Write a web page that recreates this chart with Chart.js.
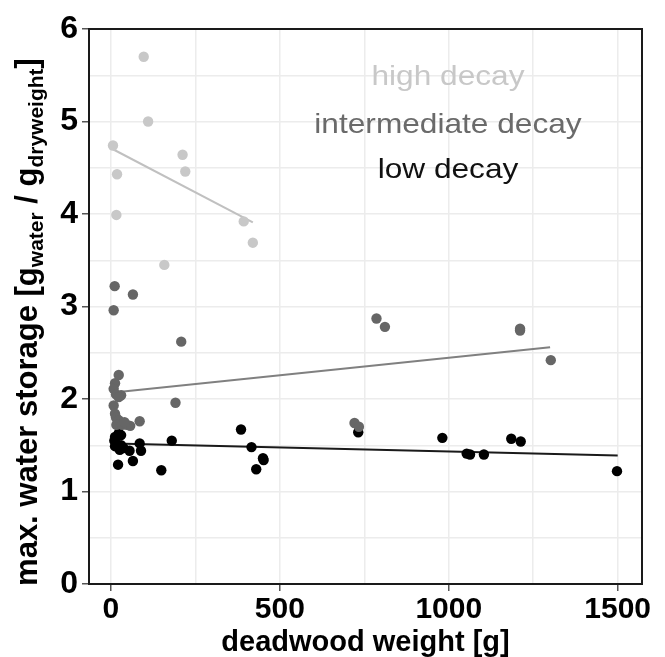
<!DOCTYPE html>
<html>
<head>
<meta charset="utf-8">
<script src="https://cdn.jsdelivr.net/npm/chart.js@4.4.1/dist/chart.umd.min.js"></script>
<style>
  html, body { margin: 0; padding: 0; background: #fff; }
  #wrap { width: 665px; height: 657px; }
</style>
</head>
<body>
<div id="wrap"><canvas id="waterChart" width="665" height="657"></canvas></div>
<script>
// values
const seriesNames = ['high decay', 'intermediate decay', 'low decay'];

const highX = [97, 110, 6, 18, 16, 212, 220, 393, 420, 158];
const highY = [5.70, 5.00, 4.74, 4.43, 3.99, 4.64, 4.46, 3.92, 3.69, 3.45];

const midX = [11, 65, 8, 208, 191, 85, 23, 12, 8, 15, 30, 23, 8, 12, 15, 23, 16, 33, 47, 57, 40,
  786, 811, 1211, 1211, 1302, 721, 734];
const midY = [3.22, 3.13, 2.96, 2.62, 1.96, 1.76, 2.26, 2.17, 2.11, 2.05, 2.04, 2.02, 1.93, 1.84, 1.80, 1.77, 1.72, 1.72, 1.72, 1.71, 1.75,
  2.87, 2.78, 2.76, 2.74, 2.42, 1.74, 1.70];

const lowX = [23, 12, 30, 10, 15, 30, 12, 26, 37, 55, 85, 89, 21, 65, 149, 180, 385, 416, 430, 450, 452,
  732, 981, 1053, 1063, 1104, 1185, 1213, 1498];
const lowY = [1.63, 1.59, 1.61, 1.55, 1.52, 1.50, 1.49, 1.45, 1.47, 1.44, 1.52, 1.44, 1.29, 1.33, 1.23, 1.55, 1.67, 1.48, 1.24, 1.36, 1.34,
  1.64, 1.58, 1.41, 1.40, 1.40, 1.57, 1.54, 1.22];

// fitted lines, end points
const highFitX = [6, 420];
const highFitY = [4.70, 3.91];
const midFitX = [8, 1300];
const midFitY = [2.07, 2.56];
const lowFitX = [10, 1500];
const lowFitY = [1.52, 1.39];

const xTicks = [0, 500, 1000, 1500];
const yTicks = [0, 1, 2, 3, 4, 5, 6];
const xGrid = [0, 250, 500, 750, 1000, 1250, 1500];
const yGrid = [0, 0.5, 1, 1.5, 2, 2.5, 3, 3.5, 4, 4.5, 5, 5.5, 6];

const pointColors = ['#c8c8c8', '#666666', '#000000'];
const lineColors = ['#c0c0c0', '#808080', '#1a1a1a'];
const FONT = "'Liberation Sans', Arial, sans-serif";

function pts(xs, ys) {
  return xs.map((x, i) => ({ x: x, y: ys[i] }));
}

function pointSet(xs, ys, color) {
  return {
    data: pts(xs, ys),
    backgroundColor: color,
    borderColor: color,
    borderWidth: 0,
    pointRadius: 5.2,
    showLine: false
  };
}

function fitSet(xs, ys, color) {
  return {
    data: pts(xs, ys),
    borderColor: color,
    borderWidth: 2,
    pointRadius: 0,
    showLine: true,
    fill: false
  };
}

// frame, legend text and the y title with subscripts
const decorations = {
  id: 'decorations',
  afterDraw(chart) {
    const { ctx, chartArea: a } = chart;
    ctx.save();
    ctx.strokeStyle = '#1a1a1a';
    ctx.lineWidth = 2;
    ctx.strokeRect(a.left, a.top, a.right - a.left, a.bottom - a.top);

    // legend labels
    const cx = 448;
    const rows = [77, 125, 170];
    ctx.font = '28px ' + FONT;
    ctx.textAlign = 'center';
    ctx.textBaseline = 'middle';
    seriesNames.forEach((name, i) => {
      ctx.save();
      ctx.translate(cx, rows[i]);
      ctx.scale(1.13, 1);
      ctx.fillStyle = i === 0 ? '#c8c8c8' : i === 1 ? '#6a6a6a' : '#111';
      ctx.fillText(name, 0, 0);
      ctx.restore();
    });

    // y title
    const big = 'bold 31px ' + FONT;
    const small = 'bold 21px ' + FONT;
    const parts = [
      ['max. water storage [g', big, 0],
      ['water', small, 6],
      [' / g', big, 0],
      ['dryweight', small, 6],
      [']', big, 0]
    ];
    let total = 0;
    parts.forEach(p => { ctx.font = p[1]; total += ctx.measureText(p[0]).width; });
    ctx.translate(37, 322);
    ctx.rotate(-Math.PI / 2);
    ctx.textAlign = 'left';
    ctx.textBaseline = 'alphabetic';
    ctx.fillStyle = '#000';
    let x = -total / 2;
    parts.forEach(p => {
      ctx.font = p[1];
      ctx.fillText(p[0], x, p[2]);
      x += ctx.measureText(p[0]).width;
    });
    ctx.restore();
  }
};

const ctx = document.getElementById('waterChart');

new Chart(ctx, {
  type: 'scatter',
  data: {
    datasets: [
      pointSet(highX, highY, pointColors[0]),
      fitSet(highFitX, highFitY, lineColors[0]),
      pointSet(midX, midY, pointColors[1]),
      fitSet(midFitX, midFitY, lineColors[1]),
      pointSet(lowX, lowY, pointColors[2]),
      fitSet(lowFitX, lowFitY, lineColors[2])
    ]
  },
  options: {
    responsive: false,
    animation: false,
    layout: { padding: { top: 29, right: 23, left: 0, bottom: 0 } },
    plugins: {
      legend: { display: false },
      tooltip: { enabled: false }
    },
    scales: {
      x: {
        type: 'linear',
        min: -65,
        max: 1572,
        afterBuildTicks: s => { s.ticks = xGrid.map(v => ({ value: v })); },
        afterFit: s => { s.height = 73; },
        ticks: {
          padding: 4,
          color: '#000',
          font: { family: FONT, size: 30, weight: 'bold', lineHeight: 1 },
          callback: v => (xTicks.includes(v) ? String(v) : '')
        },
        grid: {
          color: '#ececec',
          lineWidth: 1.5,
          tickLength: 7,
          tickColor: c => (c.tick && xTicks.includes(c.tick.value) ? '#555' : 'rgba(0,0,0,0)')
        },
        border: { display: false },
        title: {
          display: true,
          text: 'deadwood weight [g]',
          color: '#000',
          padding: 0,
          font: { family: FONT, size: 29, weight: 'bold', lineHeight: 1 }
        }
      },
      y: {
        type: 'linear',
        min: 0,
        max: 6,
        afterBuildTicks: s => { s.ticks = yGrid.map(v => ({ value: v })); },
        afterFit: s => { s.width = 89; },
        ticks: {
          padding: 4,
          color: '#000',
          font: { family: FONT, size: 32, weight: 'bold', lineHeight: 1 },
          callback: v => (yTicks.includes(v) ? String(v) : '')
        },
        grid: {
          color: '#ececec',
          lineWidth: 1.5,
          tickLength: 7,
          tickColor: c => (c.tick && yTicks.includes(c.tick.value) ? '#555' : 'rgba(0,0,0,0)')
        },
        border: { display: false }
      }
    }
  },
  plugins: [decorations]
});
</script>
</body>
</html>
